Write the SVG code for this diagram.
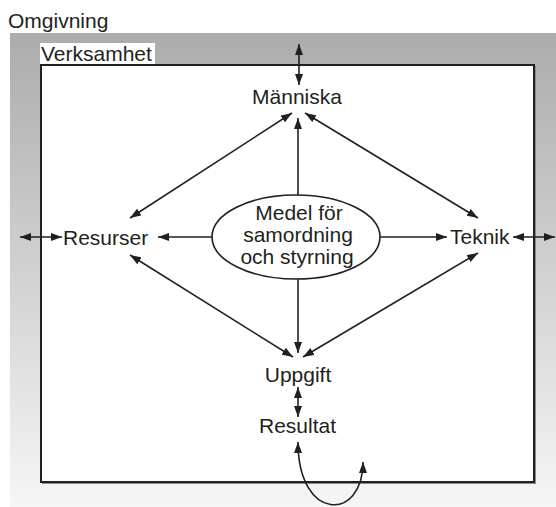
<svg xmlns="http://www.w3.org/2000/svg" width="556" height="507" viewBox="0 0 556 507">
<style>
text{font-family:"Liberation Sans",Arial,sans-serif;font-size:21px;fill:#231f20}
.c{text-anchor:middle}
.ln{stroke:#231f20;stroke-width:1.6;fill:none}
</style>
<defs>
<linearGradient id="g" x1="0" y1="0" x2="0" y2="1">
<stop offset="0" stop-color="#acacac"/>
<stop offset="1" stop-color="#f6f6f6"/>
</linearGradient>
<marker id="a" viewBox="0 0 11 8" refX="11" refY="4" markerWidth="11" markerHeight="8" markerUnits="userSpaceOnUse" orient="auto-start-reverse">
<path d="M0,0 L11,4 L0,8 z" fill="#231f20"/>
</marker>
</defs>
<g id="omgivning">
<rect x="10" y="33" width="546" height="474" fill="url(#g)"/>
<text x="8" y="28">Omgivning</text>
</g>
<g id="verksamhet">
<rect x="42.5" y="66.5" width="493" height="417" fill="none" stroke="#8a8a8a" stroke-width="1"/>
<rect x="41" y="65" width="493" height="417" fill="#fff" stroke="#231f20" stroke-width="2"/>
<rect x="40" y="43" width="115" height="21" fill="#fff"/>
<text x="41" y="61">Verksamhet</text>
</g>
<g id="manniska"><text class="c" x="297" y="104">Människa</text></g>
<g id="resurser"><text x="63" y="245">Resurser</text></g>
<g id="teknik"><text x="450" y="244">Teknik</text></g>
<g id="medel">
<ellipse cx="296" cy="237" rx="84" ry="42" fill="#fff" stroke="#231f20" stroke-width="1.6"/>
<text class="c" x="299" y="220">Medel för</text>
<text class="c" x="298" y="242">samordning</text>
<text class="c" x="297" y="264">och styrning</text>
</g>
<g id="uppgift"><text class="c" x="298" y="382">Uppgift</text></g>
<g id="resultat"><text class="c" x="297.5" y="433">Resultat</text></g>
<g id="connectors" class="ln">
<line x1="299" y1="44" x2="299" y2="85" marker-start="url(#a)" marker-end="url(#a)"/>
<line x1="292" y1="113" x2="130" y2="218" marker-start="url(#a)" marker-end="url(#a)"/>
<line x1="305" y1="113" x2="478" y2="218" marker-start="url(#a)" marker-end="url(#a)"/>
<line x1="130" y1="255" x2="293" y2="357" marker-start="url(#a)" marker-end="url(#a)"/>
<line x1="478" y1="253" x2="303" y2="357" marker-start="url(#a)" marker-end="url(#a)"/>
<line x1="298" y1="195" x2="298" y2="118" marker-end="url(#a)"/>
<line x1="298" y1="279" x2="298" y2="353" marker-end="url(#a)"/>
<line x1="212" y1="237" x2="158" y2="237" marker-end="url(#a)"/>
<line x1="380" y1="237" x2="447" y2="237" marker-end="url(#a)"/>
<line x1="20" y1="237" x2="62" y2="237" marker-start="url(#a)" marker-end="url(#a)"/>
<line x1="513" y1="237" x2="555" y2="237" marker-start="url(#a)" marker-end="url(#a)"/>
<line x1="298" y1="387" x2="298" y2="417" marker-start="url(#a)" marker-end="url(#a)"/>
<path d="M298,442 C298,522 363,522 363,462" marker-start="url(#a)" marker-end="url(#a)"/>
</g>
</svg>
